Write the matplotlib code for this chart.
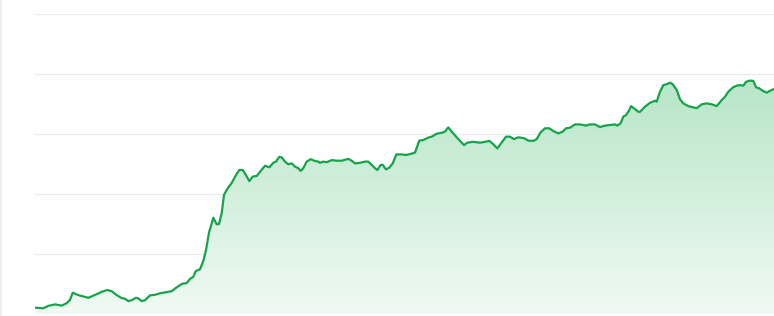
import numpy as np
import matplotlib
matplotlib.use("Agg")
import matplotlib.pyplot as plt
from matplotlib.colors import LinearSegmentedColormap
from matplotlib.patches import Polygon

# time position (0..739) and value (0..100 scale, gridlines every 20)
t = [1, 8.3, 13.3, 20, 26.7, 31.7, 35, 37.7, 43.3, 53.3,
     61.7, 66.7, 72.3, 76.7, 81.7, 86.7, 90, 93.3, 96.7, 101,
     103.3, 106.7, 110, 115, 120, 125, 136.7, 141.7, 147.3, 151.7,
     155, 158.3, 160.7, 165, 168.3, 171, 174, 178.3, 181.7, 184,
     186.7, 189, 192.3, 196.7, 201, 204.3, 207.7, 211, 214.3, 217.7,
     221.7, 225, 230, 234.3, 238.3, 241, 244.3, 246.7, 250, 253.3,
     256.7, 260, 263.3, 265.7, 268.3, 271.7, 275.7, 280, 283.3, 285,
     288.3, 291.7, 296.7, 301.7, 306.7, 313.3, 316.7, 320, 325, 330,
     333.3, 336.7, 340, 342.3, 345.7, 347.7, 351, 354.3, 357.7, 361.3,
     366.7, 371, 375, 380, 384.3, 388.3, 393.3, 396.7, 401.7, 406.7,
     410, 413.3, 416.7, 421.7, 426.7, 429, 432.3, 438.3, 445, 450,
     454.3, 458.3, 462.3, 466.7, 471, 475, 479, 483.3, 489, 493.3,
     498.3, 501.7, 505.7, 510, 514.3, 518.3, 523.3, 527.7, 531, 535,
     540, 545, 551, 555, 560, 565, 570, 575, 580, 582.3,
     585.7, 588.3, 591, 594.3, 596, 600, 603.3, 605, 610, 615,
     620, 621.7, 625, 628.3, 631.7, 635, 637.7, 641.7, 645, 648.3,
     653.3, 658.3, 661.7, 666.7, 671.7, 676.7, 681.7, 686.7, 690, 693.3,
     698.3, 701.7, 705, 708.3, 711, 715, 718.3, 721, 724.3, 728.3,
     731.7, 735, 739]
v = [2.1, 1.9, 2.7, 3.2, 2.8, 3.6, 4.7, 7.1, 6.3, 5.4,
     6.6, 7.4, 8.0, 7.6, 6.3, 5.3, 5.1, 4.3, 4.6, 5.4,
     5.2, 4.3, 4.6, 6.2, 6.4, 6.9, 7.6, 8.9, 10.1, 10.3,
     11.7, 12.4, 14.3, 14.9, 17.7, 21.3, 27.1, 32.1, 29.9, 30.0,
     33.6, 39.7, 41.7, 43.7, 46.3, 48.0, 48.0, 46.3, 44.3, 45.8,
     46.0, 47.4, 49.4, 48.9, 50.4, 50.8, 52.4, 52.2, 50.8, 49.9,
     50.2, 49.1, 48.6, 47.7, 48.6, 50.8, 51.6, 51.0, 50.8, 50.4,
     50.8, 50.6, 51.3, 51.1, 51.1, 51.7, 51.1, 50.2, 50.4, 50.8,
     50.8, 49.7, 48.6, 48.0, 49.7, 49.7, 48.2, 48.8, 50.2, 53.2,
     53.2, 53.0, 53.3, 53.8, 57.8, 58.0, 58.8, 59.1, 60.1, 60.4,
     60.8, 62.2, 60.8, 58.9, 57.1, 56.3, 57.1, 57.4, 57.1, 57.4,
     57.7, 56.6, 55.2, 57.2, 59.1, 59.1, 58.3, 58.9, 58.6, 57.8,
     57.7, 58.3, 60.6, 61.9, 61.9, 61.0, 60.2, 60.8, 61.9, 62.1,
     63.2, 63.2, 62.8, 63.2, 63.2, 62.3, 62.8, 63.0, 63.2, 62.8,
     63.6, 65.8, 66.3, 68.0, 69.3, 68.3, 67.4, 67.4, 69.1, 70.4,
     71.1, 70.8, 74.1, 76.3, 76.6, 77.1, 76.6, 74.7, 71.6, 70.2,
     69.3, 68.9, 68.6, 69.9, 70.2, 69.9, 69.3, 71.3, 72.4, 74.1,
     75.6, 76.1, 76.3, 76.1, 77.4, 77.8, 77.7, 75.6, 75.2, 74.3,
     73.8, 74.4, 75.0]
grid_values = [0, 20, 40, 60, 80, 100]

W, H = 774, 316
fig = plt.figure(figsize=(W / 100, H / 100), dpi=100)
fig.patch.set_facecolor("white")
ax = fig.add_axes([35 / W, 2 / H, (W - 35) / W, 300 / H])
ax.set_xlim(0, 739)
ax.set_ylim(0, 100)

line_color = "#16a34a"

# gradient fill under the curve
ymax = max(v)
cmap = LinearSegmentedColormap.from_list(
    "g", [(0.94, 0.98, 0.955), (0.72, 0.90, 0.78)])
grad = np.linspace(0, 1, 256).reshape(-1, 1)
im = ax.imshow(grad, cmap=cmap, origin="lower", aspect="auto",
               extent=[0, 739, 0, ymax], zorder=1, interpolation="bilinear")
verts = [(t[0], 0)] + list(zip(t, v)) + [(t[-1], 0)]
poly = Polygon(verts, closed=True, facecolor="none", edgecolor="none")
ax.add_patch(poly)
im.set_clip_path(poly)

ax.plot(t, v, color=line_color, lw=1.6, zorder=3, solid_joinstyle="round")

for g in grid_values:
    ax.axhline(g, color="#e9ecee", lw=0.9, zorder=0.5 if g else 2)

for s in ax.spines.values():
    s.set_visible(False)
ax.set_xticks([])
ax.set_yticks([])
ax.patch.set_alpha(0)

# left border line of the card
fig.add_artist(plt.Line2D([0.6 / W, 0.6 / W], [0, 1], color="#e6ebf0", lw=1.2,
                          transform=fig.transFigure))

fig.savefig("out.png", dpi=100)
